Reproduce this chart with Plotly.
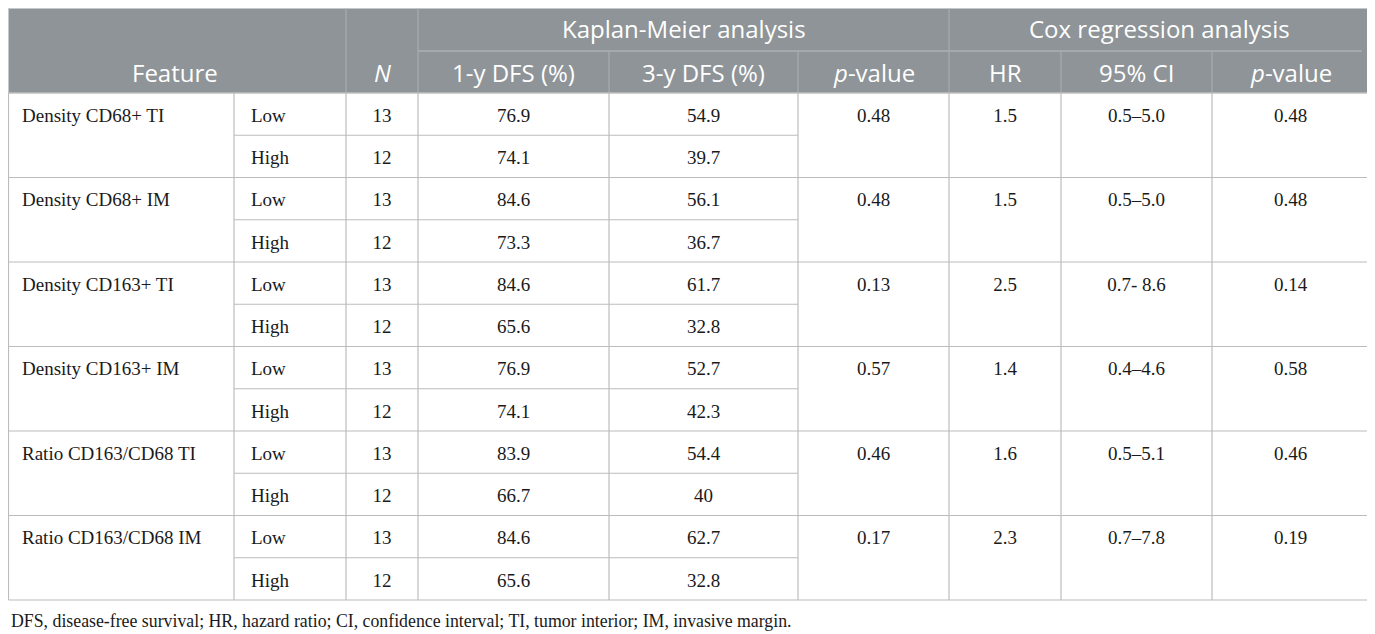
import plotly.graph_objects as go

# Table content
features = [
    "Density CD68+ TI",
    "Density CD68+ IM",
    "Density CD163+ TI",
    "Density CD163+ IM",
    "Ratio CD163/CD68 TI",
    "Ratio CD163/CD68 IM",
]
groups = ["Low", "High"]
n_low = [13, 13, 13, 13, 13, 13]
n_high = [12, 12, 12, 12, 12, 12]
dfs1_low = [76.9, 84.6, 84.6, 76.9, 83.9, 84.6]
dfs1_high = [74.1, 73.3, 65.6, 74.1, 66.7, 65.6]
dfs3_low = [54.9, 56.1, 61.7, 52.7, 54.4, 62.7]
dfs3_high = [39.7, 36.7, 32.8, 42.3, 40, 32.8]
km_p = [0.48, 0.48, 0.13, 0.57, 0.46, 0.17]
hr = [1.5, 1.5, 2.5, 1.4, 1.6, 2.3]
ci = ["0.5–5.0", "0.5–5.0", "0.7- 8.6", "0.4–4.6", "0.5–5.1", "0.7–7.8"]
cox_p = [0.48, 0.48, 0.14, 0.58, 0.46, 0.19]

group_headers = ["Kaplan-Meier analysis", "Cox regression analysis"]
sub_headers = ["1-y DFS (%)", "3-y DFS (%)", "<i>p</i>-value",
               "HR", "95% CI", "<i>p</i>-value"]
footnote = ("DFS, disease-free survival; HR, hazard ratio; CI, confidence "
            "interval; TI, tumor interior; IM, invasive margin.")

# Geometry / style (in page pixels; the page body adds an 8px margin)
PAGE_W, PAGE_H, BODY_MARGIN = 1375, 634, 8
W, H = PAGE_W - BODY_MARGIN, PAGE_H - BODY_MARGIN
edges = [8.5, 234, 346, 418, 609, 798, 949, 1061, 1212, 1369]
text_left = [22, 251]
head_top, group_line, head_bot = 8.5, 51, 93
row_h = 42.25
text_dy = 3

HEAD_BG = "#8e9497"
HEAD_LINE = "#aab0b3"
BODY_LINE = "#bcbcbc"
TXT = "#1a1a1a"
HEAD_FONT = dict(family="Open Sans", size=24, color="white")
BODY_FONT = dict(family="Liberation Serif", size=19, color=TXT)

n_rows = 2 * len(features)
body_bot = head_bot + n_rows * row_h


def mid(i):
    return (edges[i] + edges[i + 1]) / 2


def row_y(r):
    return head_bot + (r + 0.5) * row_h + text_dy


fig = go.Figure()
shapes = []

# header block
shapes.append(dict(type="rect", x0=edges[0], x1=edges[-1], y0=head_top,
                   y1=head_bot, fillcolor=HEAD_BG,
                   line=dict(color="#c4c8ca", width=1), layer="below"))
for i in (2, 3, 6):
    shapes.append(dict(type="line", x0=edges[i], x1=edges[i], y0=head_top,
                       y1=head_bot, line=dict(color=HEAD_LINE, width=1)))
for i in (4, 5, 7, 8):
    shapes.append(dict(type="line", x0=edges[i], x1=edges[i], y0=group_line,
                       y1=head_bot, line=dict(color=HEAD_LINE, width=1)))
shapes.append(dict(type="line", x0=edges[3], x1=edges[-1] - 7, y0=group_line,
                   y1=group_line, line=dict(color=HEAD_LINE, width=1.5)))

# body grid
for e in edges:
    shapes.append(dict(type="line", x0=e, x1=e, y0=head_bot, y1=body_bot,
                       line=dict(color=BODY_LINE, width=1.2)))
for r in range(n_rows + 1):
    y = head_bot + r * row_h
    if r % 2 == 0:
        x0, x1 = edges[0], edges[-1]
    else:
        x0, x1 = edges[1], edges[5]
    shapes.append(dict(type="line", x0=x0, x1=x1, y0=y, y1=y,
                       line=dict(color=BODY_LINE, width=1.2)))

# header text
annotations = []


def head(text, x, y):
    annotations.append(dict(text=text, x=x, y=y, xref="x", yref="y",
                            showarrow=False, font=HEAD_FONT,
                            xanchor="center", yanchor="middle"))


head("Feature", (4 + edges[2]) / 2, 72)
head("<i>N</i>", mid(2), 72)
head(group_headers[0], (edges[3] + edges[6]) / 2, 28)
head(group_headers[1], (edges[6] + edges[9]) / 2, 28)
for k, t in enumerate(sub_headers):
    head(t, mid(3 + k), 72)

annotations.append(dict(text=footnote, x=9, y=621, xref="x", yref="y",
                        showarrow=False, xanchor="left", yanchor="middle",
                        font=dict(family="Liberation Serif", size=17.8,
                                  color=TXT)))

# body text
top_rows = [2 * k for k in range(len(features))]
all_rows = list(range(n_rows))


def interleave(a, b):
    out = []
    for u, v in zip(a, b):
        out += [u, v]
    return out


def col_text(x, rows, values, pos="middle center"):
    fig.add_trace(go.Scatter(
        x=[x] * len(rows), y=[row_y(r) for r in rows], mode="text",
        text=[str(v) for v in values], textposition=pos,
        textfont=BODY_FONT, hoverinfo="skip", showlegend=False))


col_text(text_left[0], top_rows, features, "middle right")
col_text(text_left[1], all_rows, groups * len(features), "middle right")
col_text(mid(2), all_rows, interleave(n_low, n_high))
col_text(mid(3), all_rows, interleave(dfs1_low, dfs1_high))
col_text(mid(4), all_rows, interleave(dfs3_low, dfs3_high))
col_text(mid(5), top_rows, km_p)
col_text(mid(6), top_rows, hr)
col_text(mid(7), top_rows, ci)
col_text(mid(8), top_rows, cox_p)

fig.update_xaxes(range=[BODY_MARGIN, PAGE_W], visible=False, fixedrange=True)
fig.update_yaxes(range=[PAGE_H, BODY_MARGIN], visible=False, fixedrange=True)
fig.update_layout(
    width=W, height=H, margin=dict(l=0, r=0, t=0, b=0),
    plot_bgcolor="white", paper_bgcolor="white",
    shapes=shapes, annotations=annotations, showlegend=False,
)
fig.write_html("out.html")
